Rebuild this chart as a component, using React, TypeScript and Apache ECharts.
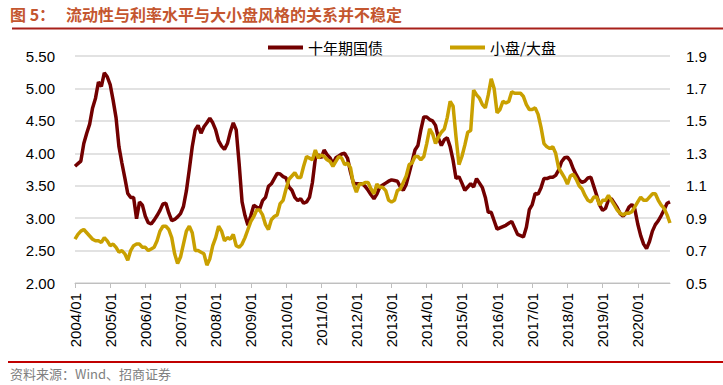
import React, { useEffect, useRef } from "react";
import * as echarts from "echarts";

// Monthly categories 2004/01 .. 2020/12
const months: string[] = [];
for (let y = 2004; y <= 2020; y++) {
  for (let m = 1; m <= 12; m++) months.push(`${y}/${m < 10 ? "0" + m : m}`);
}

const seriesNames = ["十年期国债", "小盘/大盘"];

// 十年期国债 (left axis, %)
const bondYield = [
  3.80, 3.84, 3.88, 4.15, 4.31, 4.45, 4.70, 4.85, 5.10, 5.03, 5.24, 5.18,
  5.06, 4.82, 4.55, 4.10, 3.85, 3.62, 3.38, 3.32, 3.32, 2.99, 3.25, 3.20,
  3.03, 2.93, 2.91, 2.97, 3.04, 3.12, 3.22, 3.23, 3.08, 2.96, 2.98, 3.02,
  3.07, 3.18, 3.42, 3.75, 4.10, 4.36, 4.43, 4.31, 4.41, 4.47, 4.54, 4.47,
  4.36, 4.19, 4.11, 4.06, 4.15, 4.33, 4.47, 4.36, 3.84, 3.25, 3.04, 2.89,
  3.04, 3.20, 3.17, 3.14, 3.27, 3.32, 3.49, 3.53, 3.61, 3.69, 3.68, 3.64,
  3.62, 3.48, 3.43, 3.32, 3.27, 3.30, 3.23, 3.25, 3.32, 3.55, 3.92, 3.98,
  3.93, 4.05, 3.98, 3.93, 3.84, 3.93, 3.96, 3.99, 4.00, 3.92, 3.71, 3.54,
  3.53, 3.53, 3.53, 3.49, 3.43, 3.36, 3.30, 3.37, 3.48, 3.51, 3.54, 3.57,
  3.59, 3.58, 3.57, 3.48, 3.43, 3.52, 3.69, 3.87, 4.05, 4.12, 4.36, 4.56,
  4.56, 4.52, 4.50, 4.43, 4.23, 4.12, 4.21, 4.24, 4.10, 3.89, 3.61, 3.64,
  3.54, 3.43, 3.48, 3.53, 3.48, 3.61, 3.54, 3.47, 3.32, 3.09, 3.09, 2.96,
  2.83, 2.85, 2.87, 2.89, 2.92, 2.95, 2.85, 2.75, 2.73, 2.71, 2.86, 3.13,
  3.21, 3.38, 3.37, 3.47, 3.61, 3.61, 3.63, 3.63, 3.66, 3.74, 3.87, 3.93,
  3.94, 3.88, 3.76, 3.67, 3.59, 3.55, 3.57, 3.62, 3.63, 3.49, 3.35, 3.20,
  3.12, 3.15, 3.28, 3.30, 3.23, 3.16, 3.07, 3.03, 3.08, 3.17, 3.21, 3.14,
  2.91, 2.73, 2.60, 2.53, 2.64, 2.80, 2.90, 2.96, 3.04, 3.13, 3.23, 3.25,
];

// 小盘/大盘 (right axis)
const smallLargeRatio = [
  0.77, 0.80, 0.82, 0.83, 0.81, 0.79, 0.77, 0.76, 0.76, 0.75, 0.78, 0.76,
  0.73, 0.74, 0.72, 0.69, 0.70, 0.68, 0.64, 0.70, 0.73, 0.74, 0.74, 0.72,
  0.72, 0.70, 0.71, 0.72, 0.76, 0.82, 0.85, 0.85, 0.83, 0.78, 0.68, 0.62,
  0.66, 0.74, 0.82, 0.85, 0.81, 0.70, 0.70, 0.69, 0.68, 0.61, 0.65, 0.73,
  0.78, 0.85, 0.82, 0.76, 0.78, 0.77, 0.80, 0.73, 0.72, 0.74, 0.78, 0.83,
  0.88, 0.91, 0.95, 0.95, 0.92, 0.86, 0.83, 0.89, 0.91, 0.92, 0.99, 1.01,
  1.08, 1.14, 1.16, 1.18, 1.15, 1.15, 1.22, 1.28, 1.27, 1.26, 1.32, 1.27,
  1.29, 1.28, 1.26, 1.25, 1.22, 1.25, 1.28, 1.27, 1.23, 1.24, 1.21, 1.11,
  1.06, 1.11, 1.11, 1.12, 1.12, 1.08, 1.05, 1.11, 1.09, 1.09, 1.07, 1.01,
  1.00, 1.01, 1.07, 1.08, 1.12, 1.16, 1.23, 1.24, 1.28, 1.28, 1.26, 1.28,
  1.36, 1.45, 1.42, 1.36, 1.40, 1.43, 1.45, 1.52, 1.62, 1.59, 1.40, 1.23,
  1.28, 1.35, 1.43, 1.44, 1.69, 1.66, 1.64, 1.60, 1.58, 1.66, 1.76, 1.70,
  1.55, 1.57, 1.62, 1.61, 1.62, 1.68, 1.67, 1.67, 1.67, 1.65, 1.60, 1.57,
  1.57, 1.58, 1.54, 1.46, 1.36, 1.34, 1.33, 1.34, 1.30, 1.21, 1.18, 1.15,
  1.11, 1.16, 1.17, 1.14, 1.10, 1.08, 1.04, 1.01, 1.00, 1.03, 1.03, 0.98,
  1.01, 1.01, 1.04, 1.01, 0.98, 0.95, 0.93, 0.92, 0.93, 0.93, 0.94, 0.97,
  1.00, 1.03, 1.01, 1.01, 1.03, 1.05, 1.05, 1.01, 0.98, 0.96, 0.92, 0.87,
];

const rightTicks = [0.5, 0.7, 0.9, 1.1, 1.3, 1.5, 1.7, 1.9];

const LATIN = "'Liberation Sans', Arial, sans-serif";
const CJK = "'Noto Sans CJK SC', sans-serif";

export default function App() {
  const ref = useRef<HTMLDivElement>(null);
  useEffect(() => {
    if (!ref.current) return;
    const chart = echarts.init(ref.current, null, { renderer: "svg" });
    const yearTick = (idx: number) => idx % 12 === 0;
    chart.setOption({
      animation: false,
      backgroundColor: "#ffffff",
      grid: { left: 75, right: 53, top: 56, bottom: 102, containLabel: false },
      legend: {
        left: 263,
        top: 35,
        icon: "rect",
        itemWidth: 35,
        itemHeight: 4,
        itemGap: 67,
        data: seriesNames,
        textStyle: { fontFamily: CJK, fontSize: 15, color: "#000" },
      },
      xAxis: {
        type: "category",
        data: months,
        boundaryGap: false,
        axisLine: { lineStyle: { color: "#BFBFBF", width: 1 } },
        axisTick: { interval: yearTick, length: 5, lineStyle: { color: "#BFBFBF" } },
        axisLabel: {
          interval: yearTick,
          rotate: 90,
          margin: 10,
          fontSize: 15,
          color: "#000",
          fontFamily: LATIN,
        },
        splitLine: { show: false },
      },
      yAxis: [
        {
          type: "value",
          min: 2,
          max: 5.5,
          interval: 0.5,
          axisLine: { show: false },
          axisTick: { show: false },
          axisLabel: {
            margin: 20,
            fontSize: 15,
            color: "#000",
            fontFamily: LATIN,
            formatter: (v: number) => v.toFixed(2),
          },
          splitLine: { lineStyle: { color: "#D9D9D9", width: 1.5 } },
        },
        {
          type: "value",
          min: 0.5,
          max: 1.9,
          axisLine: { show: false },
          axisTick: { show: false },
          axisLabel: {
            customValues: rightTicks,
            margin: 16,
            fontSize: 15,
            color: "#000",
            fontFamily: LATIN,
            formatter: (v: number) => v.toFixed(1),
          },
          splitLine: { show: false },
        },
      ],
      series: [
        {
          name: seriesNames[0],
          type: "line",
          yAxisIndex: 0,
          data: bondYield,
          symbol: "none",
          lineStyle: { color: "#720000", width: 3.5 },
          itemStyle: { color: "#720000" },
        },
        {
          name: seriesNames[1],
          type: "line",
          yAxisIndex: 1,
          data: smallLargeRatio,
          symbol: "none",
          lineStyle: { color: "#C9A000", width: 3.5 },
          itemStyle: { color: "#C9A000" },
        },
      ],
      graphic: [
        {
          type: "text",
          left: 10,
          top: 6,
          style: {
            text: "图 5：",
            fontFamily: CJK,
            fontWeight: "bold",
            fontSize: 16,
            fill: "#C4562F",
          },
        },
        {
          type: "text",
          left: 66,
          top: 6,
          style: {
            text: "流动性与利率水平与大小盘风格的关系并不稳定",
            fontFamily: CJK,
            fontWeight: "bold",
            fontSize: 16,
            fill: "#C4562F",
          },
        },
        {
          type: "line",
          shape: { x1: 12, y1: 28.5, x2: 723, y2: 28.5 },
          style: { stroke: "#A8201A", lineWidth: 2 },
        },
        {
          type: "line",
          shape: { x1: 8, y1: 362, x2: 723, y2: 362 },
          style: { stroke: "#C00000", lineWidth: 2 },
        },
        {
          type: "text",
          left: 10,
          top: 367,
          style: {
            text: "资料来源：Wind、招商证券",
            fontFamily: CJK,
            fontSize: 13,
            fill: "#808080",
          },
        },
      ],
    });
    return () => chart.dispose();
  }, []);
  return <div ref={ref} style={{ width: 723, height: 385, position: "absolute", left: 0, top: 0 }} />;
}
